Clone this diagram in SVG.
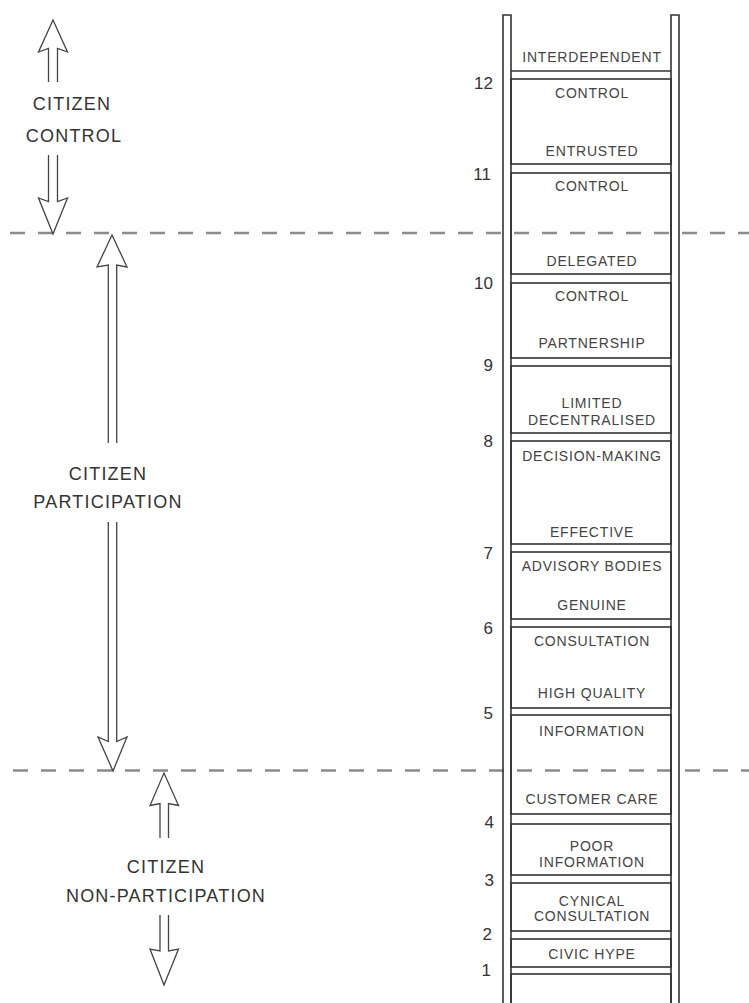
<svg xmlns="http://www.w3.org/2000/svg" width="749" height="1003" viewBox="0 0 749 1003">
<style>
.bg{fill:#fff}
.rail{fill:none;stroke:#333;stroke-width:1.6}
.rung{fill:none;stroke:#333;stroke-width:1.6}
.arrow{fill:none;stroke:#444;stroke-width:1.3;stroke-linejoin:miter}
.div{stroke:#8a8a8a;stroke-width:2.6;stroke-dasharray:15 13}
.lbl{font-family:"Liberation Sans",Arial,sans-serif;font-size:14px;letter-spacing:0.8px;fill:#444;text-anchor:middle}
.num{font-family:"Liberation Sans",Arial,sans-serif;font-size:17px;fill:#333;text-anchor:end}
.big{font-family:"Liberation Sans",Arial,sans-serif;font-size:18px;letter-spacing:1.2px;fill:#333;text-anchor:middle}
</style>
<rect class="bg" x="0" y="0" width="749" height="1003"/>

<g id="connectors">
  <line class="div" x1="10" y1="233" x2="749" y2="233"/>
  <line class="div" x1="13" y1="770.5" x2="749" y2="770.5"/>
  <!-- citizen control arrows -->
  <path class="arrow" d="M48.5,82 V48.5 L38.5,52 L53,20 L67.5,52 L57.5,48.5 V82"/>
  <path class="arrow" d="M48.5,155 V201.5 L38.5,198 L53,234 L67.5,198 L57.5,201.5 V155"/>
  <!-- participation arrows -->
  <path class="arrow" d="M108.3,443 V265 L97,267 L112,235 L127,267 L116.7,265 V443"/>
  <path class="arrow" d="M108.3,522 V741.5 L98,737 L113,771 L127,737 L116.7,741.5 V522"/>
  <!-- non-participation arrows -->
  <path class="arrow" d="M160,838 V803.5 L150,805.5 L164,773 L178.5,805.5 L168.5,803.5 V838"/>
  <path class="arrow" d="M160,915 V951 L150,949 L164,985 L178.5,949 L168.5,951 V915"/>
</g>

<g id="ladder">
  <path class="rail" d="M503,1003 V15 H511 V1003"/>
  <path class="rail" d="M671,1003 V15 H679 V1003"/>
  <line class="rung" x1="511" y1="71" x2="671" y2="71"/>
</g>

<g id="top-section"><text class="lbl" x="592" y="62">INTERDEPENDENT</text></g>
<g id="rung-12"><rect class="rung" x="511" y="79" width="160" height="85"/>
  <text class="lbl" x="592" y="98">CONTROL</text><text class="lbl" x="592" y="156">ENTRUSTED</text></g>
<g id="rung-11"><rect class="rung" x="511" y="173" width="160" height="101"/>
  <text class="lbl" x="592" y="191">CONTROL</text><text class="lbl" x="592" y="266">DELEGATED</text></g>
<g id="rung-10"><rect class="rung" x="511" y="283" width="160" height="75"/>
  <text class="lbl" x="592" y="301">CONTROL</text><text class="lbl" x="592" y="348">PARTNERSHIP</text></g>
<g id="rung-9"><rect class="rung" x="511" y="366" width="160" height="67"/>
  <text class="lbl" x="592" y="408">LIMITED</text><text class="lbl" x="592" y="425">DECENTRALISED</text></g>
<g id="rung-8"><rect class="rung" x="511" y="441" width="160" height="103"/>
  <text class="lbl" x="592" y="461">DECISION-MAKING</text><text class="lbl" x="592" y="537">EFFECTIVE</text></g>
<g id="rung-7"><rect class="rung" x="511" y="552" width="160" height="67"/>
  <text class="lbl" x="592" y="571">ADVISORY BODIES</text><text class="lbl" x="592" y="610">GENUINE</text></g>
<g id="rung-6"><rect class="rung" x="511" y="627" width="160" height="81"/>
  <text class="lbl" x="592" y="646">CONSULTATION</text><text class="lbl" x="592" y="698">HIGH QUALITY</text></g>
<g id="rung-5"><rect class="rung" x="511" y="715" width="160" height="99"/>
  <text class="lbl" x="592" y="736">INFORMATION</text><text class="lbl" x="592" y="804">CUSTOMER CARE</text></g>
<g id="rung-4"><rect class="rung" x="511" y="824" width="160" height="51"/>
  <text class="lbl" x="592" y="851">POOR</text><text class="lbl" x="592" y="867">INFORMATION</text></g>
<g id="rung-3"><rect class="rung" x="511" y="883" width="160" height="48"/>
  <text class="lbl" x="592" y="906">CYNICAL</text><text class="lbl" x="592" y="921">CONSULTATION</text></g>
<g id="rung-2"><rect class="rung" x="511" y="939" width="160" height="28"/>
  <text class="lbl" x="592" y="959">CIVIC HYPE</text></g>
<g id="rung-1"><rect class="rung" x="511" y="974" width="160" height="40"/></g>

<g id="numbers">
  <text class="num" x="493" y="89">12</text>
  <text class="num" x="491" y="180">11</text>
  <text class="num" x="493" y="289">10</text>
  <text class="num" x="493" y="371">9</text>
  <text class="num" x="493" y="447">8</text>
  <text class="num" x="493" y="559">7</text>
  <text class="num" x="493" y="634">6</text>
  <text class="num" x="493" y="719">5</text>
  <text class="num" x="494" y="828">4</text>
  <text class="num" x="494" y="886">3</text>
  <text class="num" x="492" y="940">2</text>
  <text class="num" x="491" y="976">1</text>
</g>

<g id="citizen-control"><text class="big" x="72" y="110">CITIZEN</text><text class="big" x="74" y="142">CONTROL</text></g>
<g id="citizen-participation"><text class="big" x="108" y="480">CITIZEN</text><text class="big" x="108" y="508">PARTICIPATION</text></g>
<g id="citizen-non-participation"><text class="big" x="166" y="873">CITIZEN</text><text class="big" x="166" y="902">NON-PARTICIPATION</text></g>
</svg>
